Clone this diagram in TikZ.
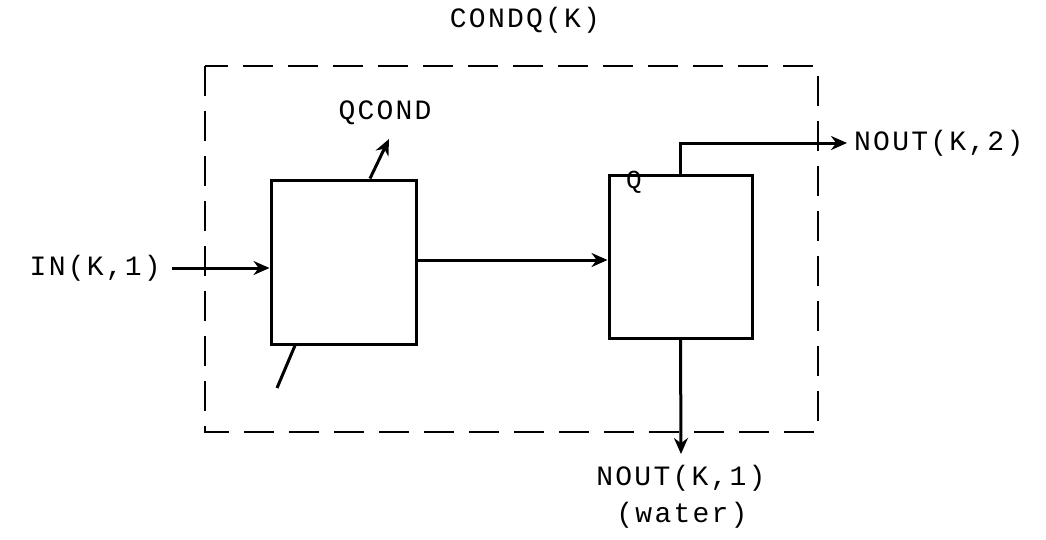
\documentclass[tikz,border=0pt]{standalone}
\usepackage{fontspec}
\setmonofont[LetterSpace=8.0]{Liberation Mono}
\usetikzlibrary{arrows.meta}
\begin{document}
\begin{tikzpicture}[x=1pt,y=-1pt,
  lbl/.style={font=\ttfamily\fontsize{28}{30}\selectfont, inner sep=3pt},
  blk/.style={draw, line width=3pt, minimum width=145pt, minimum height=164pt, inner sep=0pt},
  conn/.style={line width=3pt},
  arr/.style={conn, -{Stealth[length=16pt,width=14pt]}},
  frame/.style={line width=2.8pt, dash pattern=on 30pt off 15pt}]
\useasboundingbox (0,0) rectangle (1046,539);
% system boundary
\draw[frame] (205,66) rectangle (818,432);
% blocks
\node[blk] (b1) at (343.5,262) {};
\node[blk, minimum width=143pt, minimum height=163pt] (b2) at (680.5,256.5) {};
% labels
\node[lbl] (condq) at (525,20) {CONDQ(K)};
\node[lbl] (qcond) at (385,113) {QCOND};
\node[lbl, anchor=east] (in) at (164,268) {IN(K,1)};
\node[lbl, anchor=west] (nout2) at (851,143) {NOUT(K,2)};
\node[lbl] (nout1) at (681,478) {NOUT(K,1)};
\node[lbl] (water) at (682,515) {(water)};
\node[lbl, font=\ttfamily\fontsize{26}{28}\selectfont] (q) at (634,182) {Q};
% coordinates
\coordinate (instart) at (172,268);
\coordinate (qtip) at (389,139);
\coordinate (lowend) at (277,388);
\coordinate (n1end) at (681,454);
% connectors
\draw[arr] (instart) -- (instart -| b1.west);
\draw[arr] ([yshift=2]b1.east) -- ([yshift=2]b1.east -| b2.west);
\draw[arr] ([xshift=26.5]b1.north) -- (qtip);
\draw[conn] ([xshift=-48.5]b1.south) -- (lowend);
\draw[arr] (b2.north) |- ([xshift=-4]nout2.west);
\draw[arr] (b2.south) -- (n1end);
\end{tikzpicture}
\end{document}
